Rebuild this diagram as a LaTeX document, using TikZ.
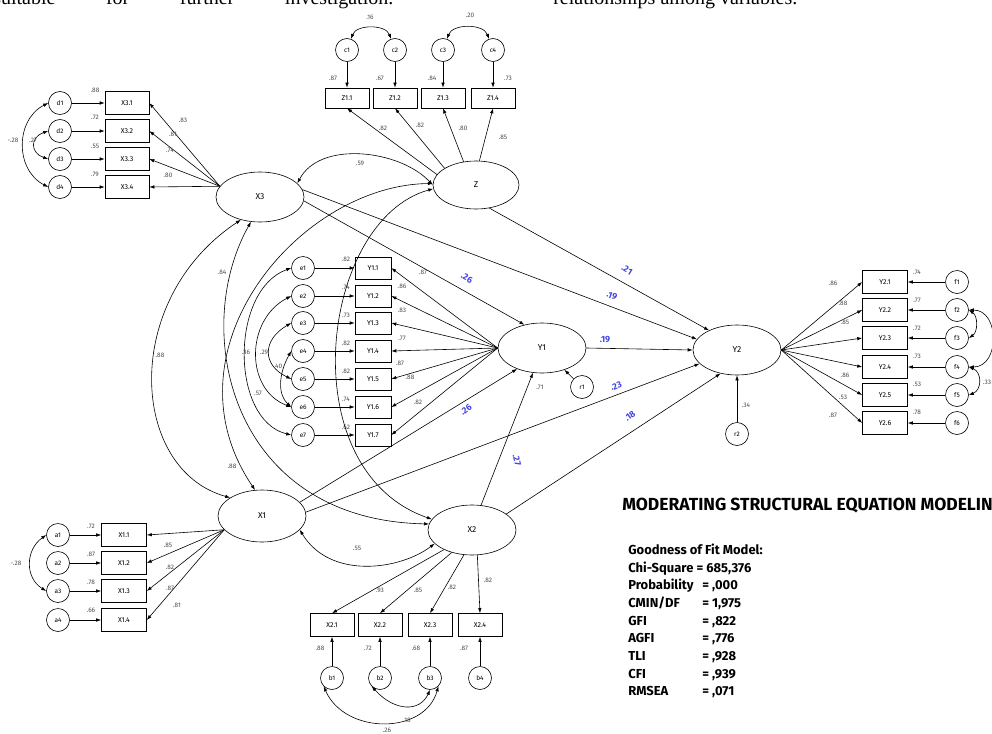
\documentclass[tikz,border=0pt]{standalone}
\usepackage{fontspec}
\setmainfont{Liberation Serif}
\setsansfont{Fira Sans}
\usetikzlibrary{arrows.meta,shapes.geometric,positioning}
\definecolor{estblue}{RGB}{70,70,225}

\begin{document}
\begin{tikzpicture}[x=1pt,y=-1pt,line width=0.6pt,
  latent/.style={draw,ellipse,minimum width=88pt,minimum height=50pt,inner sep=0pt,font=\sffamily\fontsize{8.5}{9}\selectfont},
  ind/.style={draw,minimum width=44pt,minimum height=23pt,inner sep=0pt,font=\sffamily\fontsize{7}{8}\selectfont},
  err/.style={draw,circle,minimum size=23pt,inner sep=0pt,font=\sffamily\fontsize{6.5}{7}\selectfont},
  arr/.style={-{Latex[length=5pt,width=3.5pt]}},
  cov/.style={{Latex[length=5pt,width=3.5pt]}-{Latex[length=5pt,width=3.5pt]}},
  num/.style={font=\sffamily\fontsize{6.5}{7}\selectfont,text=black!70,inner sep=1pt},
  est/.style={font=\sffamily\bfseries\fontsize{9}{10}\selectfont,text=estblue,inner sep=1pt},
  fit/.style={font=\sffamily\bfseries\fontsize{13}{15}\selectfont,anchor=base west,inner sep=0pt}
]
\useasboundingbox (0,0) rectangle (992,733);
\clip (0,0) rectangle (992,733);

% page text above the figure
\node[anchor=base west,inner sep=0pt,font=\fontsize{20}{22}\selectfont] (txtA) at (-7,5)
  {\makebox[400pt][s]{suitable for further investigation.}};
\node[anchor=base west,inner sep=0pt,font=\fontsize{20}{22}\selectfont] (txtB) at (553,5)
  {\makebox[244pt][s]{relationships among variables.}};

% latent variables
\node[latent] (X3) at (260,197) {X3};
\node[latent,minimum width=86pt,minimum height=48pt] (Z) at (476,185) {Z};
\node[latent] (Y1) at (542,348) {Y1};
\node[latent] (Y2) at (737,350) {Y2};
\node[latent,minimum height=52pt] (X1) at (262,516) {X1};
\node[latent] (X2) at (472,530) {X2};

% Z block
\foreach \i/\x in {1/347,2/395,3/443,4/493} {
  \node[err] (c\i) at (\x,50) {c\i};
  \node[ind,minimum height=20pt] (z\i) at (\x,98) {Z1.\i};
  \draw[arr] (c\i) -- (z\i);
}
\draw[cov] (c1.70) to[out=70,in=110] (c2.110);
\draw[cov] (c3.70) to[out=70,in=110] (c4.110);
\node[num] at (370,17) {.16};
\node[num] at (470,15) {.20};
\node[num] at (333,78) {.87};
\node[num] at (380,78) {.67};
\node[num] at (432,78) {.84};
\node[num] at (508,78) {.73};
\draw[arr] (Z.165) -- (z1.south);
\draw[arr] (Z.152) -- (z2.south);
\draw[arr] (Z.118) -- (z3.south);
\draw[arr] (Z.82) -- (z4.south);
\node[num] at (383,128) {.82};
\node[num] at (420,125) {.82};
\node[num] at (463,128) {.80};
\node[num] at (503,137) {.85};

% X3 block
\foreach \i/\y in {1/103,2/131,3/159,4/187} {
  \node[err] (d\i) at (60,\y) {d\i};
  \node[ind] (x3\i) at (127,\y) {X3.\i};
  \draw[arr] (d\i) -- (x3\i);
  \draw[arr] (X3.165) -- (x3\i.east);
}
\draw[cov] (d1.west) .. controls (15,120) and (15,170) .. (d4.west);
\draw[cov] (d2.west) .. controls (30,137) and (30,153) .. (d3.west);
\node[num] at (13,140) {-.28};
\node[num] at (33,140) {.27};
\node[num] at (95,90) {.88};
\node[num] at (95,117) {.72};
\node[num] at (95,146) {.55};
\node[num] at (95,174) {.79};
\node[num] at (183,120) {.83};
\node[num] at (173,134) {.81};
\node[num] at (170,150) {.74};
\node[num] at (168,175) {.80};

% Y1 block
\foreach \i/\y in {1/268,2/296,3/323,4/351,5/379,6/407,7/435} {
  \node[err] (e\i) at (303,\y) {e\i};
  \node[ind,minimum width=36pt,minimum height=22pt] (y1\i) at (373,\y) {Y1.\i};
  \draw[arr] (e\i) -- (y1\i);
  \draw[arr] (Y1.west) -- (y1\i.east);
}
\foreach \i/\v in {1/.82,2/.74,3/.73,4/.82,5/.82,6/.74,7/.62}
  \node[num] at (346,259+28*\i-28) {\v};
\draw[cov] (e1.west) .. controls (230,290) and (230,420) .. (e7.west);
\draw[cov] (e2.west) .. controls (245,320) and (245,390) .. (e6.west);
\draw[cov] (e3.west) .. controls (262,340) and (262,365) .. (e5.west);
\draw[cov] (e4.west) .. controls (278,375) and (278,395) .. (e6.west);
\node[num] at (246,352) {.36};
\node[num] at (264,352) {.29};
\node[num] at (278,366) {.40};
\node[num] at (258,393) {.57};
\node[num] at (423,272) {.87};
\node[num] at (402,286) {.86};
\node[num] at (402,310) {.83};
\node[num] at (402,338) {.77};
\node[num] at (400,363) {.87};
\node[num] at (410,377) {.88};
\node[num] at (418,402) {.82};
\node[err] (r1) at (582,387) {r1};
\draw[arr] (r1) -- (Y1);
\node[num] at (540,387) {.71};

% Y2 block
\foreach \i/\y in {1/282,2/310,3/338,4/367,5/395,6/423} {
  \node[ind,minimum width=45pt] (y2\i) at (885,\y) {Y2.\i};
  \node[err] (f\i) at (957,\y) {f\i};
  \draw[arr] (f\i) -- (y2\i);
  \draw[arr] (Y2.east) -- (y2\i.west);
}
\foreach \i/\v in {1/.74,2/.77,3/.72,4/.73,5/.53,6/.78}
  \node[num] at (917,272+28*\i-28) {\v};
\node[num] at (833,283) {.86};
\node[num] at (843,303) {.88};
\node[num] at (845,322) {.85};
\node[num] at (845,375) {.86};
\node[num] at (843,397) {.53};
\node[num] at (833,415) {.87};
\draw[cov] (f2.east) .. controls (978,316) and (978,332) .. (f3.east);
\draw[cov] (f2.east) .. controls (1000,310) and (1000,367) .. (f4.east);
\draw[cov] (f4.east) .. controls (982,372) and (982,390) .. (f5.east);
\node[num] at (987,382) {.33};
\node[err] (r2) at (737,434) {r2};
\draw[arr] (r2) -- (Y2);
\node[num] at (746,405) {.34};

% X1 block
\foreach \i/\y in {1/535,2/563,3/591,4/620} {
  \node[err] (a\i) at (58,\y) {a\i};
  \node[ind,minimum width=45pt] (x1\i) at (124,\y) {X1.\i};
  \draw[arr] (a\i) -- (x1\i);
  \draw[arr] (X1.200) -- (x1\i.east);
}
\foreach \i/\v in {1/.72,2/.87,3/.78,4/.66}
  \node[num] at (91,526+28*\i-28) {\v};
\draw[cov] (a1.west) .. controls (25,550) and (25,578) .. (a3.west);
\node[num] at (16,563) {-.28};
\node[num] at (168,545) {.85};
\node[num] at (170,567) {.82};
\node[num] at (170,588) {.87};
\node[num] at (177,605) {.81};

% X2 block
\foreach \i/\x in {1/332,2/380,3/430,4/480} {
  \node[ind] (x2\i) at (\x,625) {X2.\i};
  \node[err] (b\i) at (\x,678) {b\i};
  \draw[arr] (b\i) -- (x2\i);
}
\draw[arr] (X2.215) -- (x21.north);
\draw[arr] (X2.228) -- (x22.north);
\draw[arr] (X2.252) -- (x23.north);
\draw[arr] (X2.282) -- (x24.north);
\foreach \i/\v in {1/.88,2/.72,3/.68,4/.87}
  \node[num] at (320+48*\i-48,648) {\v};
\node[num] at (380,590) {.93};
\node[num] at (418,590) {.85};
\node[num] at (452,587) {.82};
\node[num] at (488,580) {.82};
\draw[cov] (b1.south west) .. controls (345,735) and (425,735) .. (b3.south east);
\draw[cov] (b2.south west) .. controls (395,712) and (420,712) .. (b3.south);
\node[num] at (407,720) {.18};
\node[num] at (387,730) {.26};

% covariances among exogenous
\draw[cov] (X3.20) .. controls (320,140) and (400,150) .. (Z.west);
\node[num] at (360,163) {.59};
\draw[cov] (X3.230) .. controls (120,300) and (130,470) .. (X1.150);
\node[num] at (160,355) {.88};
\draw[cov] (X3.250) .. controls (190,330) and (230,520) .. (X2.172);
\node[num] at (222,272) {.84};
\draw[cov] (Z.178) .. controls (300,185) and (160,350) .. (X1.105);
\node[num] at (232,466) {.88};
\draw[cov] (Z.185) .. controls (320,220) and (290,470) .. (X2.165);
\draw[cov] (X1.-20) .. controls (330,580) and (400,570) .. (X2.200);
\node[num] at (357,548) {.55};

% structural paths
\draw[arr] (X3.-5) -- (Y1.127);
\draw[arr] (X3.10) -- (Y2.165);
\draw[arr] (Z.-60) -- (Y2.145);
\draw[arr] (Y1.east) -- (Y2.west);
\draw[arr] (X1.20) -- (Y1.220);
\draw[arr] (X1.5) -- (Y2.200);
\draw[arr] (X2.70) -- (Y1.250);
\draw[arr] (X2.25) -- (Y2.235);
\node[est,rotate=-30] at (467,278) {.26};
\node[est,rotate=-31] at (627,270) {.21};
\node[est,rotate=-21] at (612,296) {.19};
\node[est] at (605,340) {.19};
\node[est,rotate=35] at (466,410) {.26};
\node[est,rotate=21] at (616,386) {.23};
\node[est,rotate=-75] at (517,460) {.27};
\node[est,rotate=36] at (630,416) {.18};

% goodness of fit
\node[anchor=base west,inner sep=0pt,font=\sffamily\bfseries\fontsize{17.5}{19}\selectfont] (title) at (622,510)
  {MODERATING STRUCTURAL EQUATION MODELING};
\node[fit] (gof) at (628,554) {Goodness of Fit Model:};
\node[fit] (chi) at (628,572) {Chi-Square = 685,376};
\foreach \k/\v [count=\n] in {Probability/{,000},{CMIN/DF}/{1,975},GFI/{,822},AGFI/{,776},TLI/{,928},CFI/{,939},RMSEA/{,071}} {
  \node[fit] at (628,572+17.7*\n) {\k};
  \node[fit] at (702,572+17.7*\n) {= \v};
}
\end{tikzpicture}
\end{document}
